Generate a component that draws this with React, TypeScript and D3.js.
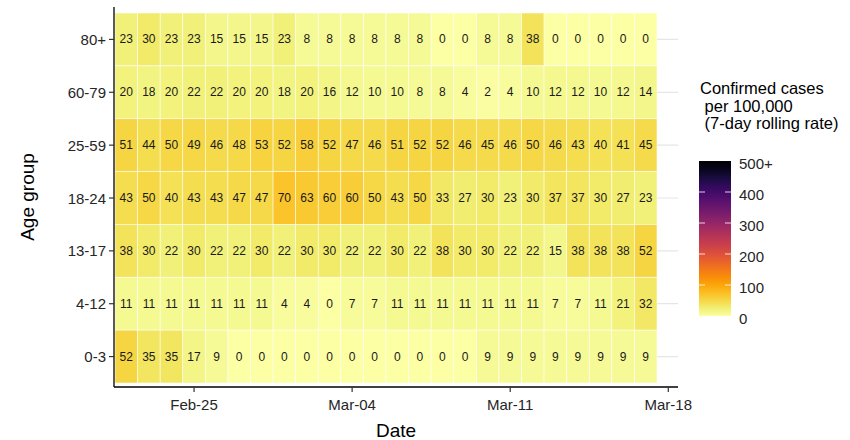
import React from "react";
import * as d3 from "d3";

const ageGroups = ["80+", "60-79", "25-59", "18-24", "13-17", "4-12", "0-3"];

const dates = [
  "2021-02-22", "2021-02-23", "2021-02-24", "2021-02-25", "2021-02-26", "2021-02-27",
  "2021-02-28", "2021-03-01", "2021-03-02", "2021-03-03", "2021-03-04", "2021-03-05",
  "2021-03-06", "2021-03-07", "2021-03-08", "2021-03-09", "2021-03-10", "2021-03-11",
  "2021-03-12", "2021-03-13", "2021-03-14", "2021-03-15", "2021-03-16", "2021-03-17",
];

const rate80plus = [23, 30, 23, 23, 15, 15, 15, 23, 8, 8, 8, 8, 8, 8, 0, 0, 8, 8, 38, 0, 0, 0, 0, 0];
const rate60to79 = [20, 18, 20, 22, 22, 20, 20, 18, 20, 16, 12, 10, 10, 8, 8, 4, 2, 4, 10, 12, 12, 10, 12, 14];
const rate25to59 = [51, 44, 50, 49, 46, 48, 53, 52, 58, 52, 47, 46, 51, 52, 52, 46, 45, 46, 50, 46, 43, 40, 41, 45];
const rate18to24 = [43, 50, 40, 43, 43, 47, 47, 70, 63, 60, 60, 50, 43, 50, 33, 27, 30, 23, 30, 37, 37, 30, 27, 23];
const rate13to17 = [38, 30, 22, 30, 22, 22, 30, 22, 30, 30, 22, 22, 30, 22, 38, 30, 30, 22, 22, 15, 38, 38, 38, 52];
const rate4to12 = [11, 11, 11, 11, 11, 11, 11, 4, 4, 0, 7, 7, 11, 11, 11, 11, 11, 11, 11, 7, 7, 11, 21, 32];
const rate0to3 = [52, 35, 35, 17, 9, 0, 0, 0, 0, 0, 0, 0, 0, 0, 0, 0, 9, 9, 9, 9, 9, 9, 9, 9];

const seriesByGroup: Record<string, number[]> = {
  "80+": rate80plus,
  "60-79": rate60to79,
  "25-59": rate25to59,
  "18-24": rate18to24,
  "13-17": rate13to17,
  "4-12": rate4to12,
  "0-3": rate0to3,
};

const xTickDates = ["2021-02-25", "2021-03-04", "2021-03-11", "2021-03-18"];
const legendTicks = [0, 100, 200, 300, 400, 500];
const legendTitle = ["Confirmed cases", " per 100,000", " (7-day rolling rate)"];

const FONT = "'Liberation Sans', Arial, Helvetica, sans-serif";

export default function App() {
  const parse = d3.utcParse("%Y-%m-%d");
  const fmt = d3.utcFormat("%b-%d");
  const dateObjs = dates.map((d) => parse(d) as Date);

  const panel = { left: 114, right: 678, top: 7, bottom: 387 };

  const x = d3
    .scaleUtc()
    .domain([d3.utcHour.offset(dateObjs[0], -12), d3.utcHour.offset(dateObjs[dateObjs.length - 1], 12)])
    .range([115, 657]);

  const y = d3.scaleBand<string>().domain(ageGroups).range([13, 383]).padding(0);

  const color = d3
    .scaleSequential((t: number) => d3.interpolateInferno(1 - t))
    .domain([0, 500])
    .clamp(true);

  const legendY = d3.scaleLinear().domain([0, 500]).range([316, 161]);
  const legendX = 699;
  const legendW = 32;

  const cells: { g: string; d: Date; v: number }[] = [];
  ageGroups.forEach((g) => {
    seriesByGroup[g].forEach((v, i) => cells.push({ g, d: dateObjs[i], v }));
  });

  const gradStops = d3.range(0, 1.0001, 0.05);

  return (
    <svg
      width={850}
      height={440}
      style={{ position: "absolute", left: 0, top: 0, background: "#fff" }}
      fontFamily={FONT}
    >
      <defs>
        <linearGradient id="legendGrad" x1="0" y1="1" x2="0" y2="0">
          {gradStops.map((t) => (
            <stop key={t} offset={t} stopColor={color(t * 500)} />
          ))}
        </linearGradient>
      </defs>

      {/* gridlines */}
      {ageGroups.map((g) => (
        <line
          key={"grid" + g}
          x1={panel.left}
          x2={panel.right}
          y1={(y(g) as number) + y.bandwidth() / 2}
          y2={(y(g) as number) + y.bandwidth() / 2}
          stroke="#e6e6e6"
          strokeWidth={1.2}
        />
      ))}

      {/* tiles */}
      {cells.map((c, i) => {
        const x0 = x(d3.utcHour.offset(c.d, -12));
        const x1 = x(d3.utcHour.offset(c.d, 12));
        return (
          <rect
            key={"r" + i}
            x={x0}
            y={y(c.g)}
            width={x1 - x0}
            height={y.bandwidth()}
            fill={color(c.v)}
            stroke="#ffffff"
            strokeOpacity={0.75}
            strokeWidth={0.7}
          />
        );
      })}

      {/* cell labels */}
      {cells.map((c, i) => (
        <text
          key={"t" + i}
          x={x(c.d)}
          y={(y(c.g) as number) + y.bandwidth() / 2}
          textAnchor="middle"
          dominantBaseline="central"
          fontSize={12}
          fill="#1a1a1a"
        >
          {c.v}
        </text>
      ))}

      {/* axes lines */}
      <line x1={panel.left} x2={panel.left} y1={panel.top} y2={panel.bottom} stroke="#000" strokeWidth={1.3} />
      <line x1={panel.left} x2={panel.right} y1={panel.bottom} y2={panel.bottom} stroke="#000" strokeWidth={1.3} />

      {/* y ticks */}
      {ageGroups.map((g) => {
        const cy = (y(g) as number) + y.bandwidth() / 2;
        return (
          <g key={"yt" + g}>
            <line x1={panel.left - 5} x2={panel.left} y1={cy} y2={cy} stroke="#333" strokeWidth={1.2} />
            <text x={panel.left - 8} y={cy} textAnchor="end" dominantBaseline="central" fontSize={15} fill="#262626">
              {g}
            </text>
          </g>
        );
      })}

      {/* x ticks */}
      {xTickDates.map((s) => {
        const d = parse(s) as Date;
        const cx = x(d);
        return (
          <g key={"xt" + s}>
            <line x1={cx} x2={cx} y1={panel.bottom} y2={panel.bottom + 5} stroke="#333" strokeWidth={1.2} />
            <text x={cx} y={panel.bottom + 23} textAnchor="middle" fontSize={15} fill="#262626">
              {fmt(d)}
            </text>
          </g>
        );
      })}

      {/* axis titles */}
      <text x={(panel.left + panel.right) / 2} y={437} textAnchor="middle" fontSize={19} fill="#000">
        Date
      </text>
      <text
        transform={`translate(34, ${(panel.top + panel.bottom) / 2}) rotate(-90)`}
        textAnchor="middle"
        fontSize={19}
        fill="#000"
      >
        Age group
      </text>

      {/* legend */}
      {legendTitle.map((line, i) => (
        <text key={"lt" + i} x={700} y={94 + i * 17.5} fontSize={16.5} fill="#000" style={{ whiteSpace: "pre" }}>
          {line}
        </text>
      ))}
      <rect
        x={legendX}
        y={legendY(500)}
        width={legendW}
        height={legendY(0) - legendY(500)}
        fill="url(#legendGrad)"
      />
      {legendTicks
        .filter((t) => t > 0 && t < 500)
        .map((t) => (
          <g key={"lk" + t}>
            <line x1={legendX} x2={legendX + 6} y1={legendY(t)} y2={legendY(t)} stroke="#fff" strokeWidth={1} strokeOpacity={0.8} />
            <line
              x1={legendX + legendW - 6}
              x2={legendX + legendW}
              y1={legendY(t)}
              y2={legendY(t)}
              stroke="#fff"
              strokeWidth={1}
              strokeOpacity={0.8}
            />
          </g>
        ))}
      {legendTicks.map((t) => (
        <text
          key={"ll" + t}
          x={legendX + legendW + 8}
          y={legendY(t) + 2}
          dominantBaseline="central"
          fontSize={15}
          fill="#262626"
        >
          {t === 500 ? "500+" : t}
        </text>
      ))}
    </svg>
  );
}
